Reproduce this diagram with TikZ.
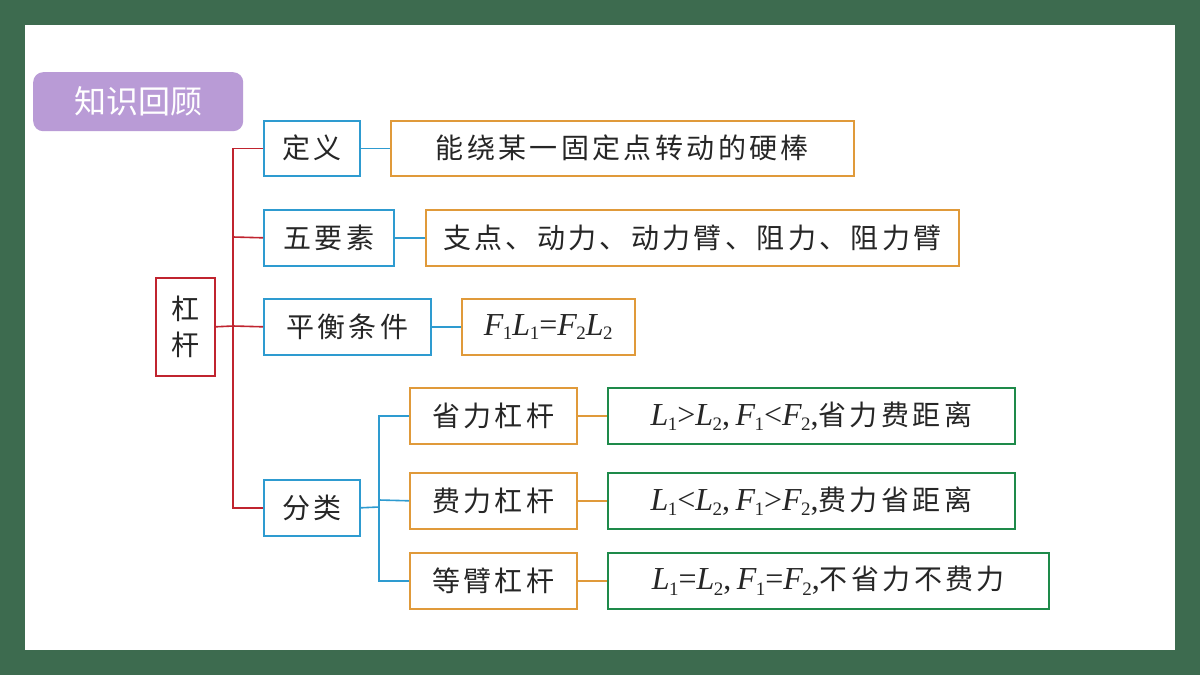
\documentclass[tikz,border=0pt]{standalone}
\usepackage{fontspec}
\newfontfamily\cjk[LetterSpace=12]{Noto Sans CJK SC}
\newfontfamily\cjkt{Noto Sans CJK SC}
\newfontfamily\lsr{Liberation Serif}
\newcommand\vv[2]{{\lsr\itshape #1}\kern-0.5pt\raisebox{-0.3ex}{\lsr\fontsize{19}{19}\selectfont #2}}
\newcommand\op[1]{{\lsr #1}}
\definecolor{bgg}{HTML}{3D6B4F}
\definecolor{pur}{HTML}{B99BD6}
\definecolor{bl}{HTML}{2E9BD0}
\definecolor{orn}{HTML}{E09A3A}
\definecolor{rd}{HTML}{C0242F}
\definecolor{gr}{HTML}{1E8A4A}
\begin{document}
\begin{tikzpicture}[x=1pt,y=-1pt,
 bx/.style={draw,line width=1.6pt,inner sep=0pt,anchor=north west,font=\cjk\fontsize{28}{32}\selectfont,text=black!85},
 bb/.style={bx,draw=bl}, ob/.style={bx,draw=orn}, gb/.style={bx,draw=gr},
 ln/.style={line width=1.6pt}]
\fill[bgg] (0,0) rectangle (1200,675);
\fill[white] (25,25) rectangle (1175,650);
\node[fill=pur,rounded corners=10pt,minimum width=210pt,minimum height=59pt,anchor=north west,text=white,font=\cjkt\fontsize{32}{36}\selectfont] (t) at (33,72) {知识回顾};
\node[bx,draw=rd,minimum width=59pt,minimum height=98pt,align=center,font=\cjkt\fontsize{28}{36}\selectfont] (g) at (155,277) {杠\\杆};
\node[bb,minimum width=96pt,minimum height=55pt] (a1) at (263,120) {定义};
\node[ob,minimum width=463pt,minimum height=55pt] (a2) at (390,120) {能绕某一固定点转动的硬棒};
\node[bb,minimum width=130pt,minimum height=56pt] (b1) at (263,209) {五要素};
\node[ob,minimum width=533pt,minimum height=56pt] (b2) at (425,209) {支点、动力、动力臂、阻力、阻力臂};
\node[bb,minimum width=167pt,minimum height=56pt] (c1) at (263,298) {平衡条件};
\node[ob,minimum width=173pt,minimum height=56pt,font=\fontsize{32}{34}\selectfont] (c2) at (461,298) {\vv{F}{1}\vv{L}{1}\op{=}\vv{F}{2}\vv{L}{2}};
\node[bb,minimum width=96pt,minimum height=56pt] (d1) at (263,479) {分类};
\node[ob,minimum width=167pt,minimum height=56pt] (e1) at (409,387) {省力杠杆};
\node[gb,minimum width=407pt,minimum height=56pt] (e2) at (607,387) {{\fontsize{32}{34}\selectfont\vv{L}{1}\op{>}\vv{L}{2}\op{,}\,\vv{F}{1}\op{<}\vv{F}{2}\op{,}}省力费距离};
\node[ob,minimum width=167pt,minimum height=56pt] (f1) at (409,472) {费力杠杆};
\node[gb,minimum width=407pt,minimum height=56pt] (f2) at (607,472) {{\fontsize{32}{34}\selectfont\vv{L}{1}\op{<}\vv{L}{2}\op{,}\,\vv{F}{1}\op{>}\vv{F}{2}\op{,}}费力省距离};
\node[ob,minimum width=167pt,minimum height=56pt] (h1) at (409,552) {等臂杠杆};
\node[gb,minimum width=441pt,minimum height=56pt] (h2) at (607,552) {{\fontsize{32}{34}\selectfont\vv{L}{1}\op{=}\vv{L}{2}\op{,}\,\vv{F}{1}\op{=}\vv{F}{2}\op{,}}不省力不费力};
\coordinate (tr) at (233,326);
\draw[ln,rd] (g.east) -- (tr);
\draw[ln,rd] (a1.west) -| (233,326) |- (d1.west);
\draw[ln,rd] (b1.west) -- (233,237);
\draw[ln,rd] (c1.west) -- (tr);
\draw[ln,bl] (a1) -- (a2); \draw[ln,bl] (b1) -- (b2); \draw[ln,bl] (c1) -- (c2);
\coordinate (cl) at (379,507);
\draw[ln,bl] (d1.east) -- (cl);
\draw[ln,bl] (e1.west) -| (cl) |- (h1.west);
\draw[ln,bl] (f1.west) -- (379,500);
\draw[ln,orn] (e1) -- (e2); \draw[ln,orn] (f1) -- (f2); \draw[ln,orn] (h1) -- (h2);
\end{tikzpicture}
\end{document}
